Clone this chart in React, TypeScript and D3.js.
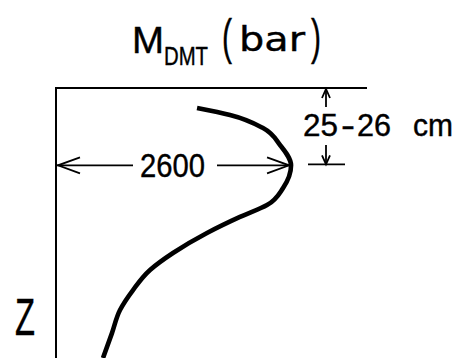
import React from 'react';
import * as d3 from 'd3';

// depth below surface (cm) and DMT modulus (bar)
const depthCm = [6.6, 8.9, 13.2, 18.8, 25.5, 33.0, 38.6, 42.5, 47.8, 54.4, 60.0, 66.6, 73.2, 80.8, 89.0];
const mdmtBar = [1560, 1925, 2290, 2478, 2600, 2511, 2334, 2035, 1670, 1294, 1040, 852, 708, 619, 520];

const peakValue = [2600];
const peakDepthLabel = ['25', '-', '26', 'cm'];
const titleParts = ['M', 'DMT', 'bar'];
const depthAxisLabel = ['Z'];

const W = 455;
const H = 358;
const FONT = "'Liberation Sans', Arial, sans-serif";
const FONT_WIDE = "'DejaVu Sans', Verdana, sans-serif";

const App = () => {
    // Set up scales
    const x = d3.scaleLinear().domain([0, 3440]).range([56, 367]);
    const y = d3.scaleLinear().domain([0, 89]).range([88, 358]);

    const points = depthCm.map((z, i) => ({ z, m: mdmtBar[i] }));
    const line = d3.line<{ z: number; m: number }>()
        .x(d => x(d.m))
        .y(d => y(d.z))
        .curve(d3.curveMonotoneY);

    const peakZ = 25.5;
    const yPeak = y(peakZ);
    const xPeak = x(peakValue[0]);
    const xDim = 326;

    // open V arrowhead: tip point plus direction
    const arrow = (tx: number, ty: number, dx: number, dy: number, len: number, half: number) => {
        const bx = tx - dx * len;
        const by = ty - dy * len;
        const px = -dy * half;
        const py = dx * half;
        return `M${bx + px},${by + py}L${tx},${ty}L${bx - px},${by - py}`;
    };

    const txt = { fill: '#000', stroke: '#000', strokeWidth: 0.4 };
    const adj = 'spacingAndGlyphs' as const;

    return (
        <svg width={W} height={H} style={{ position: 'absolute', left: 0, top: 0, background: '#fff' }}>
            {/* Title, one text with tspans */}
            <text {...txt} fontFamily={FONT}>
                <tspan x={132} y={53} fontSize={36} textLength={32} lengthAdjust={adj}>{titleParts[0]}</tspan>
                <tspan x={164} y={65} fontSize={25.5} textLength={44} lengthAdjust={adj}>{titleParts[1]}</tspan>
                <tspan x={222} y={54} fontSize={50} textLength={10} lengthAdjust={adj}>(</tspan>
                <tspan x={239} y={51} fontSize={33} fontFamily={FONT_WIDE} textLength={66} lengthAdjust={adj}>{titleParts[2]}</tspan>
                <tspan x={311} y={54} fontSize={50} textLength={10} lengthAdjust={adj}>)</tspan>
            </text>

            {/* Axes */}
            <line x1={x(0)} y1={y(0)} x2={x(3440)} y2={y(0)} stroke="#000" strokeWidth={2} />
            <line x1={x(0)} y1={y(0) - 1} x2={x(0)} y2={H} stroke="#000" strokeWidth={2} />

            {/* Profile */}
            <path d={line(points) ?? ''} fill="none" stroke="#000" strokeWidth={4.6} />

            {/* Horizontal dimension: peak value */}
            <g stroke="#000" strokeWidth={1.8} fill="none">
                <line x1={x(0) + 1} y1={yPeak} x2={133} y2={yPeak} />
                <line x1={217} y1={yPeak} x2={xPeak - 2} y2={yPeak} />
                <path d={arrow(x(0) + 2, yPeak, -1, 0, 22, 8)} />
                <path d={arrow(xPeak - 2, yPeak, 1, 0, 22, 8)} />
            </g>
            <text {...txt} x={140} y={177} fontFamily={FONT} fontSize={34} textLength={65} lengthAdjust={adj}>{peakValue[0]}</text>

            {/* Vertical dimension: peak depth */}
            <g stroke="#000" strokeWidth={1.8} fill="none">
                <line x1={xDim} y1={y(0) + 1} x2={xDim} y2={107} />
                <path d={arrow(xDim, y(0) + 1, 0, -1, 9, 4)} />
                <line x1={xDim} y1={145} x2={xDim} y2={yPeak - 1} />
                <path d={arrow(xDim, yPeak - 1, 0, 1, 9, 4)} />
                <line x1={308} y1={yPeak - 1} x2={345} y2={yPeak - 1} />
            </g>
            <text {...txt} fontFamily={FONT} fontSize={31}>
                <tspan x={303} y={136} textLength={35} lengthAdjust={adj}>{peakDepthLabel[0]}</tspan>
                <tspan x={341} y={136} textLength={14} lengthAdjust={adj}>{peakDepthLabel[1]}</tspan>
                <tspan x={357} y={136} textLength={34} lengthAdjust={adj}>{peakDepthLabel[2]}</tspan>
                <tspan x={413} y={136} textLength={40} lengthAdjust={adj}>{peakDepthLabel[3]}</tspan>
            </text>

            {/* Depth axis label */}
            <text {...txt} x={15} y={335} fontFamily={FONT} fontSize={51} textLength={20} lengthAdjust={adj}>{depthAxisLabel[0]}</text>
        </svg>
    );
};

export default App;
